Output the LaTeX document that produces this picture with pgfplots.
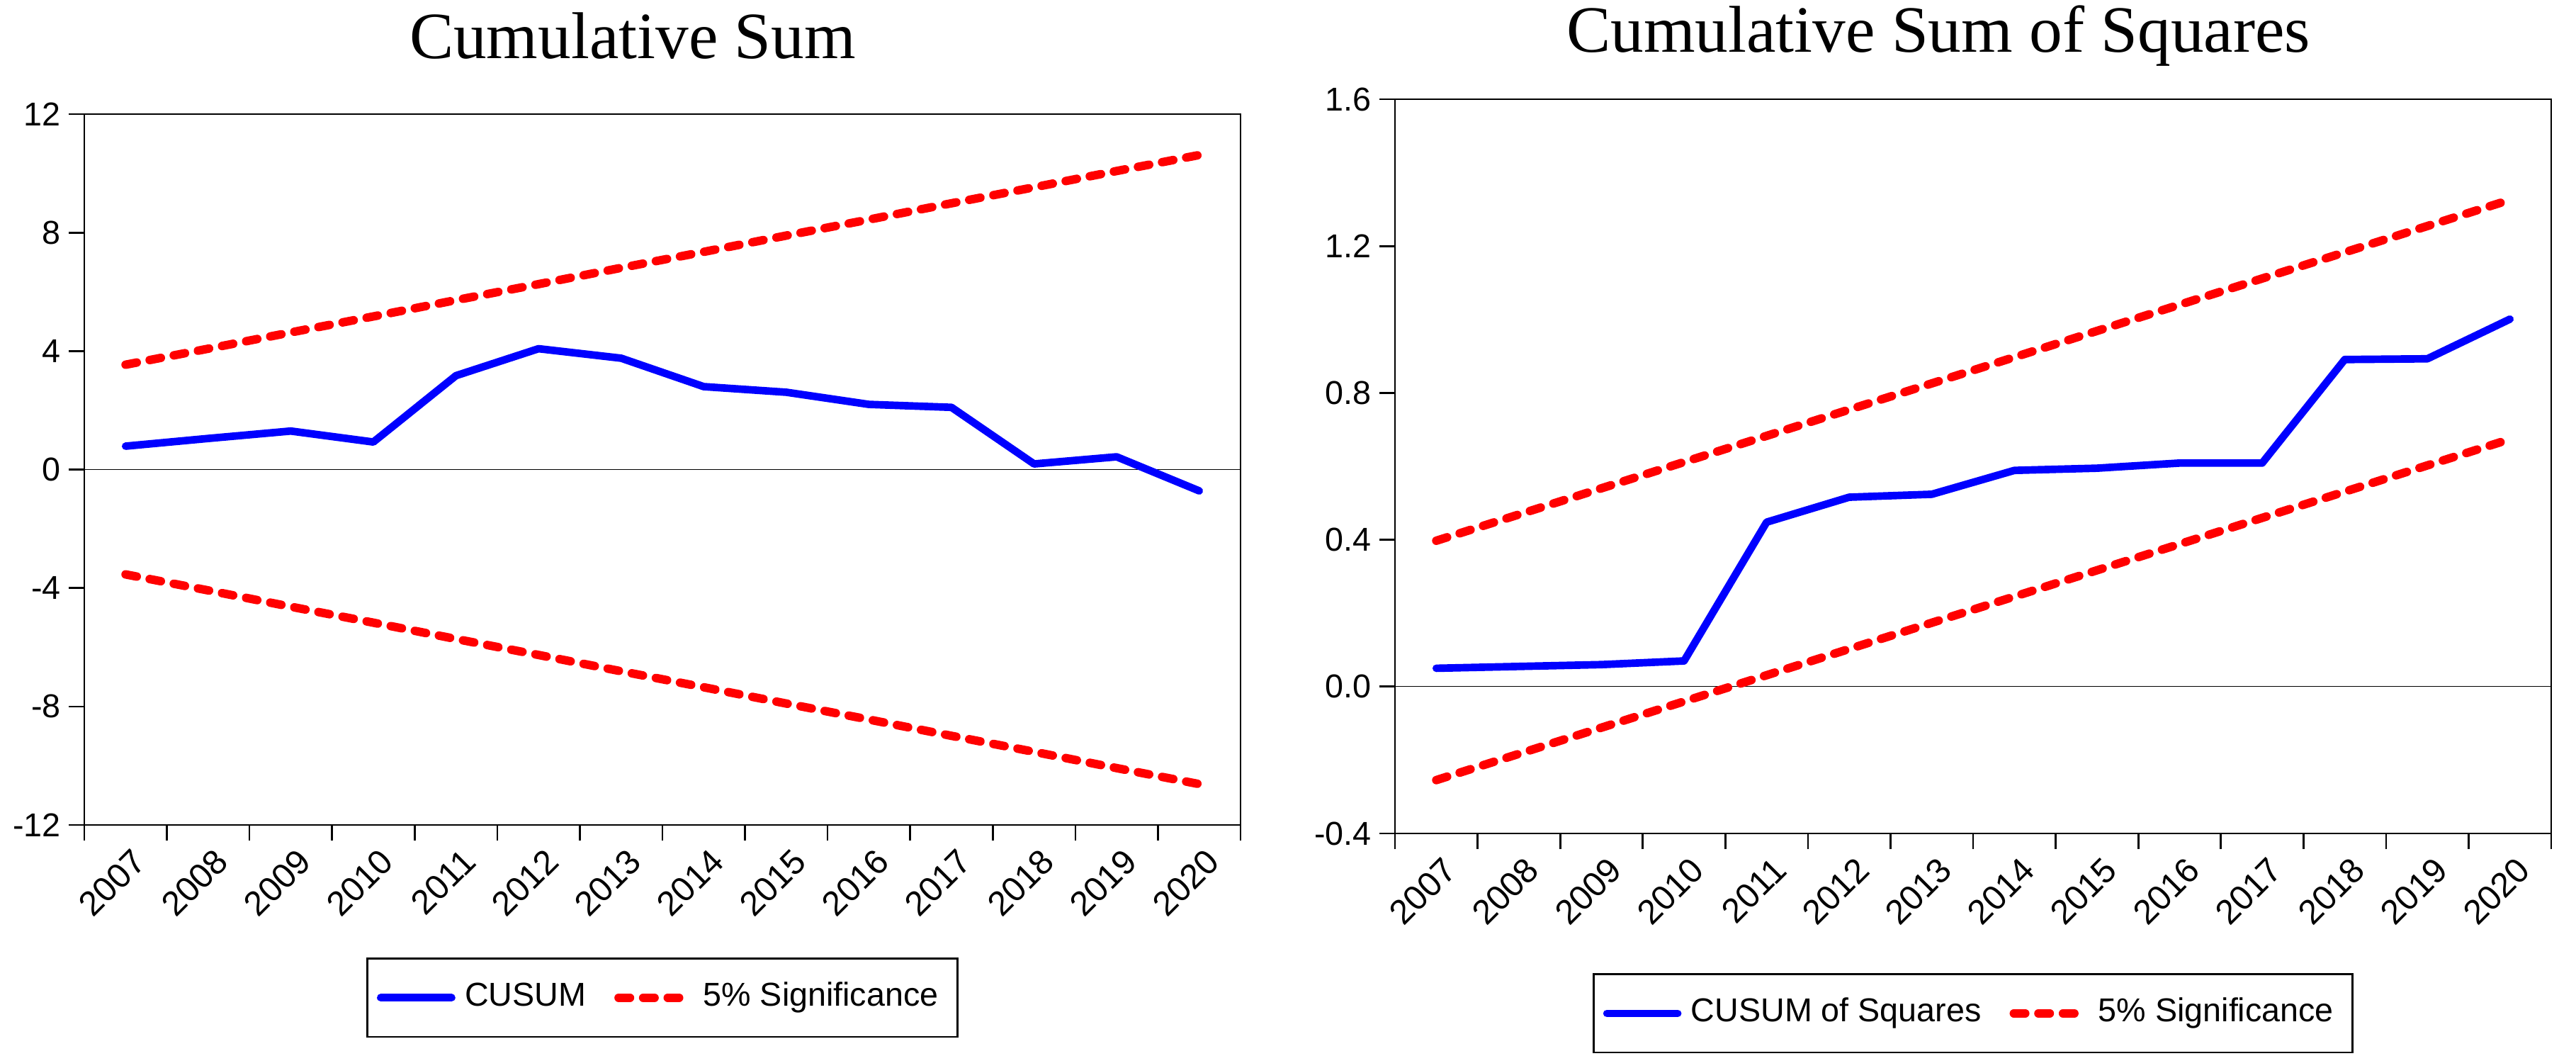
\documentclass[border=0pt]{standalone}
\usepackage{fontspec}
\setmainfont{Liberation Sans}
\newfontfamily\titlefont{Liberation Serif}
\usepackage{pgfplots}
\pgfplotsset{compat=1.18}
\usepackage{pgfplotstable}

% CUSUM test, years 2007..2020 plotted at 0..13
\pgfplotstableread{
x  cusum  upper  lower
0   0.79   3.54  -3.54
1   1.05   4.08  -4.08
2   1.30   4.63  -4.63
3   0.93   5.17  -5.17
4   3.17   5.72  -5.72
5   4.08   6.26  -6.26
6   3.76   6.81  -6.81
7   2.80   7.35  -7.35
8   2.61   7.90  -7.90
9   2.20   8.44  -8.44
10  2.10   8.99  -8.99
11  0.19   9.53  -9.53
12  0.43  10.08 -10.08
13 -0.72  10.62 -10.62
}\cusumdata

% CUSUM of squares test
\pgfplotstableread{
x  cusumsq  upper   lower
0   0.050   0.3974  -0.2546
1   0.055   0.4689  -0.1831
2   0.060   0.5403  -0.1117
3   0.070   0.6117  -0.0403
4   0.448   0.6831   0.0311
5   0.516   0.7546   0.1026
6   0.524   0.8260   0.1740
7   0.589   0.8974   0.2454
8   0.595   0.9689   0.3169
9   0.609   1.0403   0.3883
10  0.609   1.1117   0.4597
11  0.891   1.1831   0.5311
12  0.893   1.2546   0.6026
13  1.001   1.3260   0.6740
}\cusumsqdata

\definecolor{evblue}{RGB}{0,0,255}
\definecolor{evred}{RGB}{255,0,0}

\pgfplotsset{
  evstyle/.style={
    scale only axis,
    width=244.8pt,
    xmin=-0.5, xmax=13.5,
    xtick={0,...,13},
    xticklabels={2007,2008,2009,2010,2011,2012,2013,2014,2015,2016,2017,2018,2019,2020},
    minor xtick={-0.5,0.5,...,13.5},
    major x tick style={draw=none},
    tick align=outside,
    xtick pos=bottom, ytick pos=left,
    major tick length=3.3pt, minor tick length=3.3pt,
    tick style={black, line width=0.4pt},
    axis line style={black, line width=0.4pt},
    xticklabel style={font=\fontsize{7.3}{8}\selectfont, rotate=45, anchor=north east, inner sep=0pt, yshift=-1.5pt},
    yticklabel style={font=\fontsize{7}{8}\selectfont, anchor=east, inner sep=0pt, xshift=-1.5pt},
    legend columns=2,
    legend cell align=left,
    legend image code/.code={\draw[##1] (0pt,0pt) -- (15pt,0pt);},
    legend style={draw=black, line width=0.4pt, anchor=center,
      font=\fontsize{7}{8.4}\selectfont, inner xsep=2pt, inner ysep=3pt,
      /tikz/every even column/.append style={column sep=4pt}},
  },
  cusumline/.style={evblue, line width=1.6pt, line join=round, line cap=round},
  sigline/.style={evred, line width=1.8pt, line cap=round, dash pattern=on 2.4pt off 2.8pt},
}

\begin{document}
\begin{tikzpicture}
\useasboundingbox (0pt,0pt) rectangle (545.4pt,223.35pt);

\node[font=\titlefont\fontsize{14}{16}\selectfont] at (133.95pt,215.7pt) {Cumulative Sum};
\node[font=\titlefont\fontsize{14}{16}\selectfont] at (410.4pt,215.7pt) {Cumulative Sum of Squares};

\begin{axis}[
    evstyle,
    at={(17.85pt,48.75pt)}, anchor=south west,
    height=150.45pt,
    ymin=-12, ymax=12,
    ytick={-12,-8,-4,0,4,8,12},
    yticklabels={-12,-8,-4,0,4,8,12},
    legend style={at={(0.5,-0.243)}},
]
\addplot[black, line width=0.2pt, forget plot] coordinates {(-0.5,0) (13.5,0)};
\addplot[cusumline] table[x=x, y=cusum] {\cusumdata};
\addlegendentry{CUSUM}
\addplot[sigline] table[x=x, y=upper] {\cusumdata};
\addlegendentry{5\% Significance}
\addplot[sigline, forget plot] table[x=x, y=lower] {\cusumdata};
\end{axis}

\begin{axis}[
    evstyle,
    at={(295.35pt,46.95pt)}, anchor=south west,
    height=155.4pt,
    ymin=-0.4, ymax=1.6,
    ytick={-0.4,0,0.4,0.8,1.2,1.6},
    yticklabels={-0.4,0.0,0.4,0.8,1.2,1.6},
    legend style={at={(0.5,-0.245)}},
]
\addplot[black, line width=0.2pt, forget plot] coordinates {(-0.5,0) (13.5,0)};
\addplot[cusumline] table[x=x, y=cusumsq] {\cusumsqdata};
\addlegendentry{CUSUM of Squares}
\addplot[sigline] table[x=x, y=upper] {\cusumsqdata};
\addlegendentry{5\% Significance}
\addplot[sigline, forget plot] table[x=x, y=lower] {\cusumsqdata};
\end{axis}
\end{tikzpicture}
\end{document}
